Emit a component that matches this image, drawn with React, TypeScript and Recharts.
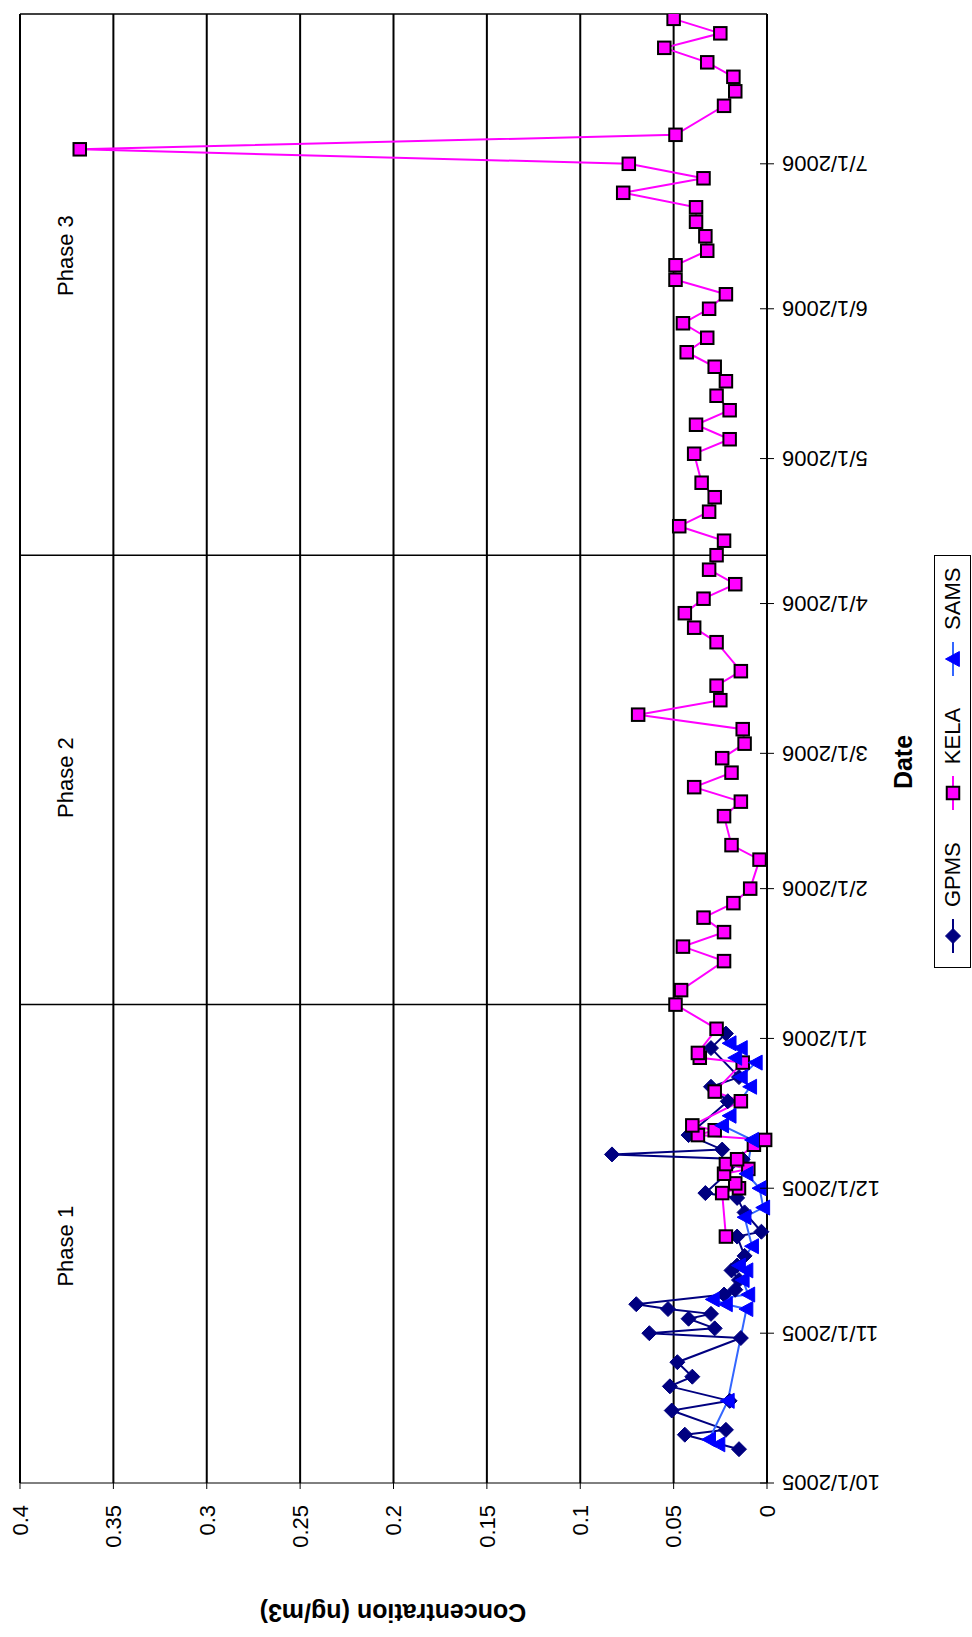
import {
    LineChart,
    Line,
    XAxis,
    YAxis,
    CartesianGrid,
    ReferenceLine,
    ReferenceDot,
} from "recharts";

const FONT = "'Liberation Sans', Arial, sans-serif";

// GPMS samples
const gpmsDates = [
    "2005-10-08", "2005-10-11", "2005-10-12", "2005-10-16", "2005-10-18", "2005-10-21",
    "2005-10-23", "2005-10-26", "2005-10-31", "2005-11-01", "2005-11-02", "2005-11-04",
    "2005-11-05", "2005-11-06", "2005-11-07", "2005-11-09", "2005-11-10", "2005-11-12",
    "2005-11-14", "2005-11-15", "2005-11-17", "2005-11-21", "2005-11-22", "2005-11-26",
    "2005-11-29", "2005-11-30", "2005-12-07", "2005-12-08", "2005-12-09", "2005-12-12",
    "2005-12-19", "2005-12-22", "2005-12-24", "2005-12-30", "2006-01-02",
];
const gpmsValues = [
    0.015, 0.044, 0.022, 0.051, 0.020, 0.052,
    0.040, 0.048, 0.014, 0.063, 0.028, 0.042,
    0.030, 0.053, 0.070, 0.023, 0.017, 0.015,
    0.019, 0.016, 0.012, 0.016, 0.003, 0.012,
    0.016, 0.033, 0.013, 0.083, 0.024, 0.042,
    0.021, 0.030, 0.015, 0.030, 0.022,
];

// KELA samples
const kelaDates = [
    "2005-11-21", "2005-11-30", "2005-12-01", "2005-12-02", "2005-12-04", "2005-12-05",
    "2005-12-06", "2005-12-07", "2005-12-10", "2005-12-11", "2005-12-12", "2005-12-13",
    "2005-12-14", "2005-12-19", "2005-12-21", "2005-12-27", "2005-12-28", "2005-12-29",
    "2006-01-03", "2006-01-08", "2006-01-11", "2006-01-17", "2006-01-20", "2006-01-23",
    "2006-01-26", "2006-01-29", "2006-02-01", "2006-02-07", "2006-02-10", "2006-02-16",
    "2006-02-19", "2006-02-22", "2006-02-25", "2006-02-28", "2006-03-03", "2006-03-06",
    "2006-03-09", "2006-03-12", "2006-03-15", "2006-03-18", "2006-03-24", "2006-03-27",
    "2006-03-30", "2006-04-02", "2006-04-05", "2006-04-08", "2006-04-11", "2006-04-14",
    "2006-04-17", "2006-04-20", "2006-04-23", "2006-04-26", "2006-05-02", "2006-05-05",
    "2006-05-08", "2006-05-11", "2006-05-14", "2006-05-17", "2006-05-20", "2006-05-23",
    "2006-05-26", "2006-05-29", "2006-06-01", "2006-06-04", "2006-06-07", "2006-06-10",
    "2006-06-13", "2006-06-16", "2006-06-19", "2006-06-22", "2006-06-25", "2006-06-28",
    "2006-07-01", "2006-07-04", "2006-07-07", "2006-07-13", "2006-07-16", "2006-07-19",
    "2006-07-22", "2006-07-25", "2006-07-28", "2006-07-31",
];
const kelaValues = [
    0.022, 0.024, 0.015, 0.017, 0.023, 0.010,
    0.022, 0.016, 0.007, 0.001, 0.037, 0.028,
    0.040, 0.014, 0.028, 0.013, 0.036, 0.037,
    0.027, 0.049, 0.046, 0.023, 0.045, 0.023,
    0.034, 0.018, 0.009, 0.004, 0.019, 0.023,
    0.014, 0.039, 0.019, 0.024, 0.012, 0.013,
    0.069, 0.025, 0.027, 0.014, 0.027, 0.039,
    0.044, 0.034, 0.017, 0.031, 0.027, 0.023,
    0.047, 0.031, 0.028, 0.035, 0.039, 0.020,
    0.038, 0.020, 0.027, 0.022, 0.028, 0.043,
    0.032, 0.045, 0.031, 0.022, 0.049, 0.049,
    0.032, 0.033, 0.038, 0.038, 0.077, 0.034,
    0.074, 0.368, 0.049, 0.023, 0.017, 0.018,
    0.032, 0.055, 0.025, 0.050,
];

// SAMS samples
const samsDates = [
    "2005-10-09", "2005-10-10", "2005-10-18", "2005-11-06", "2005-11-07", "2005-11-08",
    "2005-11-09", "2005-11-12", "2005-11-14", "2005-11-15", "2005-11-19", "2005-11-25",
    "2005-11-27", "2005-12-01", "2005-12-04", "2005-12-11", "2005-12-14", "2005-12-16",
    "2005-12-22", "2005-12-24", "2005-12-27", "2005-12-28", "2005-12-30", "2005-12-31",
];
const samsValues = [
    0.026, 0.031, 0.021, 0.011, 0.022, 0.029,
    0.010, 0.013, 0.011, 0.015, 0.008, 0.012,
    0.002, 0.004, 0.011, 0.008, 0.024, 0.020,
    0.009, 0.014, 0.006, 0.017, 0.014, 0.020,
];

const dateTickDates = [
    "2005-10-01", "2005-11-01", "2005-12-01", "2006-01-01", "2006-02-01",
    "2006-03-01", "2006-04-01", "2006-05-01", "2006-06-01", "2006-07-01",
];
const dateDomain = ["2005-10-01", "2006-08-01"];
const concTicks = [0, 0.05, 0.1, 0.15, 0.2, 0.25, 0.3, 0.35, 0.4];

const phaseLineDates = ["2006-01-08", "2006-04-11"];
const phaseLabels = ["Phase 1", "Phase 2", "Phase 3"];
const phaseLabelDates = ["2005-11-19", "2006-02-24", "2006-06-12"];
const phaseLabelLevel = 0.376;

const toTime = (s: string) => {
    const [y, m, d] = s.split("-").map(Number);
    return Date.UTC(y, m - 1, d);
};

const formatDate = (t: number) => {
    const d = new Date(t);
    return `${d.getUTCMonth() + 1}/${d.getUTCDate()}/${d.getUTCFullYear()}`;
};

const buildRows = (dates: string[], values: number[]) =>
    dates.map((d, i) => ({ t: toTime(d), v: values[i] }));

const gpmsRows = buildRows(gpmsDates, gpmsValues);
const kelaRows = buildRows(kelaDates, kelaValues);
const samsRows = buildRows(samsDates, samsValues);

// chart is laid out in its natural orientation, then turned 90deg
const CHART_W = 1637;
const CHART_H = 972;
const X_AXIS_H = 205;
const PLOT_BOTTOM = CHART_H - X_AXIS_H;

const GPMS_COLOR = "#000080";
const KELA_COLOR = "#FF00FF";
const SAMS_COLOR = "#0000FF";
const SAMS_LINE = "#3366FF";

function Diamond({ cx, cy }: { cx: number; cy: number }) {
    const r = 7.5;
    return (
        <polygon
            points={`${cx},${cy - r} ${cx + r},${cy} ${cx},${cy + r} ${cx - r},${cy}`}
            fill={GPMS_COLOR}
            stroke={GPMS_COLOR}
        />
    );
}

function Square({ cx, cy }: { cx: number; cy: number }) {
    const s = 12.5;
    return (
        <rect
            x={cx - s / 2}
            y={cy - s / 2}
            width={s}
            height={s}
            fill={KELA_COLOR}
            stroke="#000"
            strokeWidth={2}
        />
    );
}

function Triangle({ cx, cy }: { cx: number; cy: number }) {
    const h = 7.5;
    return (
        <polygon
            points={`${cx},${cy - h} ${cx + h},${cy + h * 0.85} ${cx - h},${cy + h * 0.85}`}
            fill={SAMS_COLOR}
            stroke={SAMS_COLOR}
        />
    );
}

const legendItems = [
    { name: "GPMS", line: GPMS_COLOR, Marker: Diamond },
    { name: "KELA", line: KELA_COLOR, Marker: Square },
    { name: "SAMS", line: SAMS_LINE, Marker: Triangle },
];

function DateTick(props: any) {
    const { x, payload } = props;
    const ly = PLOT_BOTTOM + 15;
    return (
        <g>
            <line x1={x} x2={x} y1={PLOT_BOTTOM - 7} y2={PLOT_BOTTOM + 7} stroke="#000" />
            <text
                x={x}
                y={ly}
                dy="0.35em"
                textAnchor="end"
                transform={`rotate(-90, ${x}, ${ly})`}
                fontSize={22}
                fill="#000"
            >
                {formatDate(payload.value)}
            </text>
        </g>
    );
}

function ChartLegend() {
    return (
        <div
            style={{
                position: "absolute",
                left: 669,
                top: 934,
                width: 413,
                height: 37,
                boxSizing: "border-box",
                border: "1px solid #000",
                display: "flex",
                alignItems: "center",
                paddingLeft: 14,
                gap: 32,
                fontSize: 22,
                color: "#000",
                background: "#fff",
            }}
        >
            {legendItems.map(({ name, line, Marker }) => (
                <div key={name} style={{ display: "flex", alignItems: "center", gap: 12 }}>
                    <svg width={34} height={18}>
                        <line x1={0} x2={34} y1={9} y2={9} stroke={line} strokeWidth={2} />
                        <Marker cx={17} cy={9} />
                    </svg>
                    <span>{name}</span>
                </div>
            ))}
        </div>
    );
}

export default function App() {
    return (
        <div
            style={{
                position: "absolute",
                left: 0,
                top: 0,
                width: 972,
                height: 1637,
                overflow: "hidden",
                background: "#fff",
                fontFamily: FONT,
            }}
        >
            <div
                style={{
                    position: "absolute",
                    left: 0,
                    top: 0,
                    width: CHART_W,
                    height: CHART_H,
                    transformOrigin: "0 0",
                    transform: `translateY(${CHART_W}px) rotate(-90deg)`,
                }}
            >
                <LineChart
                    width={CHART_W}
                    height={CHART_H}
                    margin={{ top: 20, right: 14, bottom: 0, left: 0 }}
                >
                    <CartesianGrid vertical={false} stroke="#000" strokeWidth={2} />
                    <XAxis
                        type="number"
                        dataKey="t"
                        domain={dateDomain.map(toTime)}
                        ticks={dateTickDates.map(toTime)}
                        interval={0}
                        allowDataOverflow
                        height={X_AXIS_H}
                        tick={<DateTick />}
                        tickLine={false}
                        axisLine={{ stroke: "#000" }}
                        label={{
                            content: () => (
                                <text
                                    x={875}
                                    y={903}
                                    textAnchor="middle"
                                    dominantBaseline="central"
                                    fontSize={25}
                                    fontWeight="bold"
                                    fill="#000"
                                >
                                    Date
                                </text>
                            ),
                        }}
                    />
                    <YAxis
                        type="number"
                        domain={[0, 0.4]}
                        ticks={concTicks}
                        interval={0}
                        width={154}
                        tickSize={6}
                        tickMargin={16}
                        axisLine={{ stroke: "#000" }}
                        tickLine={{ stroke: "#000" }}
                        tick={{ fill: "#000", fontSize: 22 }}
                        label={{
                            content: () => (
                                <text
                                    x={24}
                                    y={393}
                                    textAnchor="middle"
                                    dominantBaseline="central"
                                    transform="rotate(-90, 24, 393)"
                                    fontSize={25}
                                    fontWeight="bold"
                                    fill="#000"
                                >
                                    Concentration (ng/m3)
                                </text>
                            ),
                        }}
                    />
                    <Line
                        data={gpmsRows}
                        dataKey="v"
                        name="GPMS"
                        stroke={GPMS_COLOR}
                        strokeWidth={2}
                        dot={(p: any) => <Diamond key={`g${p.index}`} cx={p.cx} cy={p.cy} />}
                        isAnimationActive={false}
                    />
                    <Line
                        data={kelaRows}
                        dataKey="v"
                        name="KELA"
                        stroke={KELA_COLOR}
                        strokeWidth={2}
                        dot={(p: any) => <Square key={`k${p.index}`} cx={p.cx} cy={p.cy} />}
                        isAnimationActive={false}
                    />
                    <Line
                        data={samsRows}
                        dataKey="v"
                        name="SAMS"
                        stroke={SAMS_LINE}
                        strokeWidth={2}
                        dot={(p: any) => <Triangle key={`s${p.index}`} cx={p.cx} cy={p.cy} />}
                        isAnimationActive={false}
                    />
                    {phaseLineDates.map((d) => (
                        <ReferenceLine key={d} x={toTime(d)} stroke="#000" strokeWidth={1.5} />
                    ))}
                    <ReferenceLine x={toTime(dateDomain[1])} stroke="#000" strokeWidth={1.5} />
                    {phaseLabels.map((name, i) => (
                        <ReferenceDot
                            key={name}
                            x={toTime(phaseLabelDates[i])}
                            y={phaseLabelLevel}
                            r={0}
                            fill="none"
                            stroke="none"
                            label={{ value: name, position: "center", fill: "#000", fontSize: 22 }}
                        />
                    ))}
                </LineChart>
                <ChartLegend />
            </div>
        </div>
    );
}
